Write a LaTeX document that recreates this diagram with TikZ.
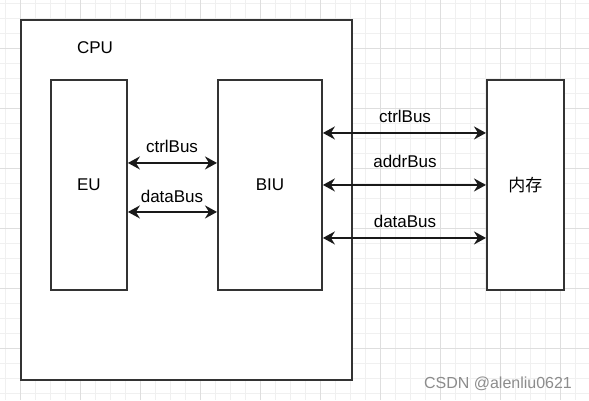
\documentclass[tikz,border=0pt]{standalone}
\usepackage{fontspec}
\setmainfont{Liberation Sans}
\newfontfamily\cjk{Noto Sans CJK SC}
\usetikzlibrary{arrows.meta}
\begin{document}
\begin{tikzpicture}[x=1pt,y=-1pt,
  minorgrid/.style={draw=black!6, line width=0.8pt},
  majorgrid/.style={draw=black!13, line width=0.8pt},
  box/.style={draw=black!80, line width=1.9pt, fill=white, inner sep=0pt, anchor=north west, font=\fontsize{17}{20}\selectfont},
  tip/.tip={Stealth[length=12pt,width=13pt,inset=4pt]},
  bus/.style={line width=1.9pt, draw=black!90, tip-tip},
  lbl/.style={font=\fontsize{17}{20}\selectfont, inner sep=0pt}]
\useasboundingbox (0,0) rectangle (589,400);
\fill[white] (0,0) rectangle (589,400);
\foreach \x in {5,20,...,589} \draw[minorgrid] (\x,0) -- (\x,400);
\foreach \y in {3,18,...,400} \draw[minorgrid] (0,\y) -- (589,\y);
\foreach \x in {20,80,...,589} \draw[majorgrid] (\x,0) -- (\x,400);
\foreach \y in {48,108,...,400} \draw[majorgrid] (0,\y) -- (589,\y);

\node[box, minimum width=331pt, minimum height=360pt] (cpu) at (20,19) {};
\node[lbl] (cpulbl) at (95,48) {CPU};
\node[box, minimum width=76pt, minimum height=210pt] (eu) at (50,79) {EU};
\node[box, minimum width=104pt, minimum height=210pt] (biu) at (217,79) {BIU};
\node[box, minimum width=77pt, minimum height=210pt] (mem) at (486,79) {\cjk 内存};

\draw[bus] ([yshift=22pt]eu.east) -- ([yshift=22pt]biu.west);
\draw[bus] ([yshift=-27pt]eu.east) -- ([yshift=-27pt]biu.west);
\node[lbl] (l1) at (172,146) {ctrlBus};
\node[lbl] (l2) at (172,196) {dataBus};

\draw[bus] ([yshift=52pt]biu.east) -- ([yshift=52pt]mem.west);
\draw[bus] (biu.east) -- (mem.west);
\draw[bus] ([yshift=-53pt]biu.east) -- ([yshift=-53pt]mem.west);
\node[lbl] (l3) at (405,116) {ctrlBus};
\node[lbl] (l4) at (405,161) {addrBus};
\node[lbl] (l5) at (405,221) {dataBus};

\node[font=\fontsize{16}{18}\selectfont, text=black!45, inner sep=0pt] (wm) at (498,384) {CSDN @alenliu0621};
\end{tikzpicture}
\end{document}
